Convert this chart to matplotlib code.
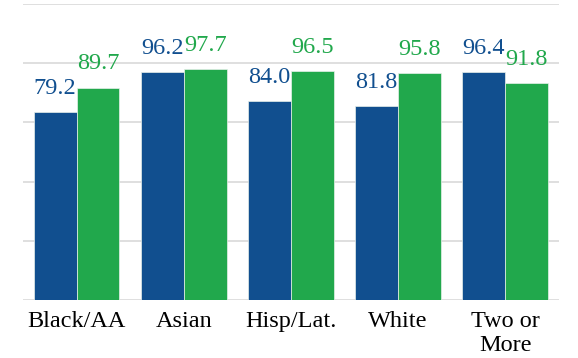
import numpy as np
import matplotlib.pyplot as plt

plt.rcParams['font.family'] = ['Liberation Serif', 'DejaVu Serif']

categories = ["Black/AA", "Asian", "Hisp/Lat.", "White", "Two or\nMore"]
blue_vals = [79.2, 96.2, 84.0, 81.8, 96.4]
green_vals = [89.7, 97.7, 96.5, 95.8, 91.8]

blue = '#114f8f'
green = '#21a84c'

fig = plt.figure(figsize=(5.78, 3.58), dpi=100)
ax = fig.add_axes([0.0398, 0.162, 0.927, 0.827])

x = np.arange(len(categories))
w = 0.4
b1 = ax.bar(x - w / 2, blue_vals, w, color=blue, edgecolor='#e8f0ea', linewidth=0.5, zorder=3)
b2 = ax.bar(x + w / 2, green_vals, w, color=green, edgecolor='#e8f0ea', linewidth=0.5, zorder=3)

for bars, vals, c in [(b1, blue_vals, blue), (b2, green_vals, green)]:
    for r, v in zip(bars, vals):
        ax.annotate(f"{v:.1f}", (r.get_x() + r.get_width() / 2, v),
                    xytext=(0, 13), textcoords='offset points',
                    ha='center', va='baseline', color=c, fontsize=17.5)

ax.set_xlim(-0.5, len(categories) - 0.5)
ax.set_ylim(0, 125)
ax.set_yticks(np.arange(0, 126, 25))
ax.set_yticklabels([])
ax.tick_params(axis='y', length=0)
ax.tick_params(axis='x', length=0, pad=8, labelsize=17.5)
ax.set_xticks(x)
ax.set_xticklabels(categories, linespacing=1.2, va='top')
ax.yaxis.grid(True, color='#d9d9d9', linewidth=1.2, zorder=0)
for s in ax.spines.values():
    s.set_visible(False)

fig.savefig('out.png', dpi=100)
